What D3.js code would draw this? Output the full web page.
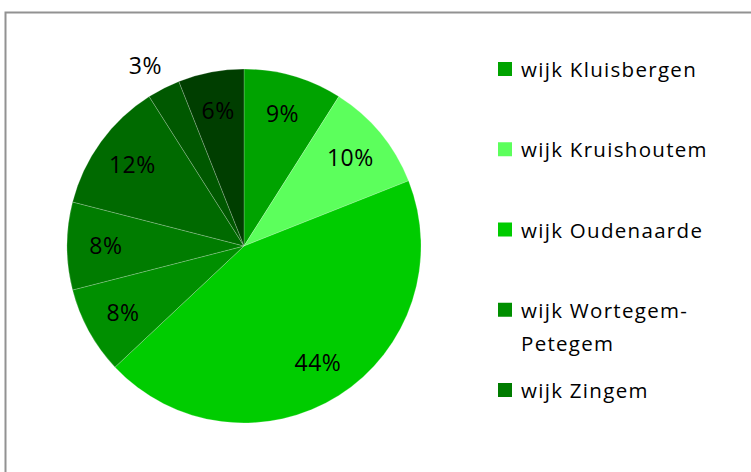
<!DOCTYPE html>
<html>
<head>
<meta charset="utf-8">
<script src="https://cdn.jsdelivr.net/npm/d3@7"></script>
<style>
  body { margin: 0; background: #fff; }
  svg { display: block; font-family: "Open Sans", sans-serif; }
</style>
</head>
<body>
<div id="chart"></div>
<script>
// slices clockwise from 12 o'clock
var wijken = ["wijk Kluisbergen", "wijk Kruishoutem", "wijk Oudenaarde", "wijk Wortegem-Petegem",
              "wijk Zingem", "wijk 6", "wijk 7", "wijk 8"];
var aandeel = [9, 10, 44, 8, 8, 12, 3, 6];
var kleuren = ["#00a300", "#5cff5c", "#00cc00", "#008f00", "#007c00", "#006a00", "#005800", "#003e00"];
// the legend only shows the first five entries (cut off)
var legendCount = 5;

var W = 751, H = 472;
var cx = 244, cy = 246, radius = 177;

var svg = d3.select("#chart").append("svg")
    .attr("width", W)
    .attr("height", H);

// chart frame
svg.append("rect")
    .attr("x", 5.5).attr("y", 12.5)
    .attr("width", 800).attr("height", 500)
    .attr("fill", "none")
    .attr("stroke", "#929292")
    .attr("stroke-width", 2);

var data = aandeel.map(function(v, i) { return { naam: wijken[i], value: v, kleur: kleuren[i] }; });

var pie = d3.pie()
    .value(function(d) { return d.value; })
    .sort(null);

var arc = d3.arc().innerRadius(0).outerRadius(radius);
var labelArc = d3.arc().innerRadius(radius * 0.78).outerRadius(radius * 0.78);
var outerArc = d3.arc().innerRadius(radius * 1.14).outerRadius(radius * 1.14);

var g = svg.append("g")
    .attr("transform", "translate(" + cx + "," + cy + ")");

var arcs = pie(data);

g.selectAll("path")
    .data(arcs)
    .enter()
    .append("path")
    .attr("d", arc)
    .attr("fill", function(d) { return d.data.kleur; })
    .attr("stroke", "rgba(255,255,255,0.35)")
    .attr("stroke-width", 0.6);

g.selectAll("text.pct")
    .data(arcs)
    .enter()
    .append("text")
    .attr("class", "pct")
    .attr("transform", function(d) {
        // small slices get their label outside
        var c = d.data.value < 5 ? outerArc.centroid(d) : labelArc.centroid(d);
        if (d.data.value < 5) c[0] -= 7;
        return "translate(" + c + ")";
    })
    .attr("text-anchor", "middle")
    .attr("dy", "0.36em")
    .style("font-size", "23px")
    .style("letter-spacing", "0.5px")
    .attr("fill", "#000")
    .text(function(d) { return d.data.value + "%"; });

// legend
var legendY = d3.scaleLinear().domain([0, 4]).range([62, 383]);
var legend = svg.append("g");

var items = legend.selectAll("g")
    .data(data.slice(0, legendCount))
    .enter()
    .append("g")
    .attr("transform", function(d, i) { return "translate(498," + legendY(i) + ")"; });

items.append("rect")
    .attr("width", 14)
    .attr("height", 14)
    .attr("fill", function(d) { return d.kleur; });

items.append("text")
    .attr("x", 23)
    .attr("y", 15)
    .style("font-size", "20.5px")
    .style("letter-spacing", "1.3px")
    .attr("fill", "#000")
    .each(function(d) {
        var lines = d.naam === "wijk Wortegem-Petegem" ? ["wijk Wortegem-", "Petegem"] : [d.naam];
        var t = d3.select(this);
        lines.forEach(function(l, j) {
            t.append("tspan").attr("x", 23).attr("dy", j ? 33 : 0).text(l);
        });
    });
</script>
</body>
</html>
